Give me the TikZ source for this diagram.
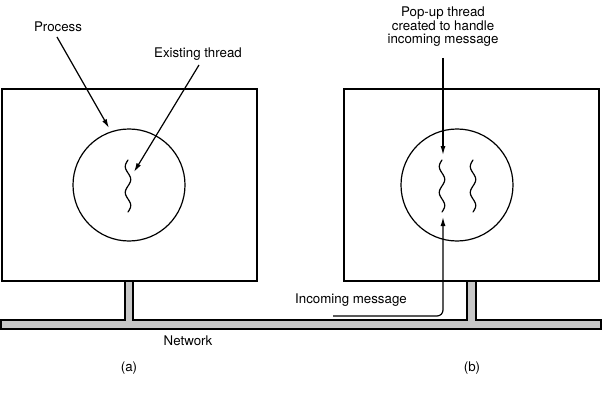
\documentclass[tikz,border=0pt]{standalone}
\usepackage{fontspec}
\setmainfont{TeX Gyre Heros}
\usetikzlibrary{arrows.meta}
\begin{document}
\begin{tikzpicture}[x=1pt,y=-1pt,line width=1.2pt,
  lbl/.style={font=\fontsize{13.3}{13.6}\selectfont,inner sep=0pt,align=center},
  arr/.style={-{Latex[length=9pt,width=5pt]},line width=1.2pt},
  machine/.style={draw,line width=1.2pt},
  proc/.style={draw,circle,minimum size=112pt,inner sep=0pt,line width=1.2pt},
  thr/.style={line width=1.2pt,line cap=round}]
\useasboundingbox (0,0) rectangle (602,401);
% network bar with stems
\draw[fill=black!22,line width=1.2pt] (1,320) -- (125,320) -- (125,281) -- (133,281) -- (133,320)
  -- (467,320) -- (467,281) -- (476,281) -- (476,320) -- (601,320) -- (601,329) -- (1,329) -- cycle;
% machines
\node[machine,minimum width=255pt,minimum height=192pt,inner sep=0pt] (boxa) at (129.5,185) {};
\node[machine,minimum width=255pt,minimum height=192pt,inner sep=0pt] (boxb) at (471.5,185) {};
% processes
\node[proc] (pa) at (129,185) {};
\node[proc] (pb) at (457,185) {};
% threads
\draw[thr] plot[domain=0:52,samples=60,smooth] ({128-2.7*sin(13.846*\x)},{160+\x});
\draw[thr] plot[domain=0:52,samples=60,smooth] ({442-2.7*sin(13.846*\x)},{160+\x});
\draw[thr] plot[domain=0:52,samples=60,smooth] ({473-2.7*sin(13.846*\x)},{160+\x});
% labels
\node[lbl] (lproc) at (58,27) {Process};
\node[lbl] (lexist) at (198,54) {Existing thread};
\node[lbl] (lpop) at (443,27) {Pop-up thread\\created to handle\\incoming message};
\node[lbl] (lin) at (351,300) {Incoming message};
\node[lbl] (lnet) at (188,341) {Network};
\node[lbl] (la) at (129,368) {(a)};
\node[lbl] (lb) at (472,368) {(b)};
% arrow targets
\coordinate (tproc) at (109,128);
\coordinate (texist) at (134,172);
\coordinate (tpop) at (443,155);
\coordinate (tin) at (443,217);
\coordinate (sin) at (333,316);
\coordinate (sproc) at (57,37);
\coordinate (sexist) at (199,65);
\coordinate (spop) at (443,58);
% arrows
\draw[arr] (sproc) -- (tproc);
\draw[arr] (sexist) -- (texist);
\draw[arr] (spop) -- (tpop);
\draw[arr,rounded corners=6pt] (sin) -- (443,316) -- (tin);
\end{tikzpicture}
\end{document}
